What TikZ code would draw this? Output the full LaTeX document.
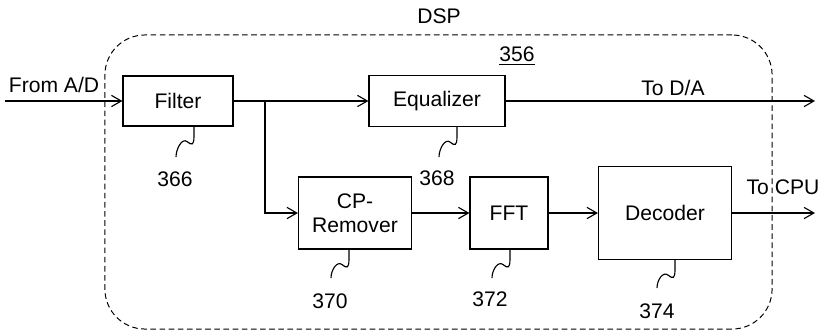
\documentclass[tikz,border=0pt]{standalone}
\usepackage{fontspec}
\setmainfont{Liberation Sans}
\usepackage{tikz}
\usetikzlibrary{arrows.meta, positioning, calc}

\begin{document}
\begin{tikzpicture}[
    x=0.025cm, y=-0.025cm,
    font=\fontsize{15}{17}\selectfont,
    box/.style={rectangle, draw, line width=0.8pt, align=center, inner sep=0pt},
    arrow/.style={-{Straight Barb[length=7pt, width=8pt]}, line width=0.8pt},
    line/.style={line width=0.8pt},
    refnum/.style={anchor=north, inner sep=0pt},
    squiggle/.style={line width=0.8pt, to path={-- ++(0,9) .. controls +(0,10) and +(5,4) .. ++(-7,6) .. controls +(-5,-4) and +(0,-8) .. (\tikztotarget)}}
]
\useasboundingbox (0,0) rectangle (822,331);

% outer DSP block
\node[draw, dash pattern=on 4pt off 2.5pt, line width=0.7pt, rounded corners=1cm, minimum width=16.675cm, minimum height=7.35cm] (dsp) at (438.5,182) {};
\node (dsplabel) at (439,16) {DSP};
\node (num356) at (517,56) {\underline{356}};

% blocks
\node[box, minimum width=2.75cm, minimum height=1.25cm] (filter) at (178,101) {Filter};
\node[box, minimum width=3.4cm, minimum height=1.275cm] (equalizer) at (437,101) {Equalizer};
\node[box, minimum width=2.825cm, minimum height=1.8cm] (cpremover) at (355,213) {CP-\\Remover};
\node[box, minimum width=1.95cm, minimum height=1.8cm] (fft) at (509,213) {FFT};
\node[box, minimum width=3.325cm, minimum height=2.325cm] (decoder) at (665,213) {Decoder};

% inputs and outputs
\coordinate (fromAD) at (5,101);
\coordinate (split) at (265,101);
\coordinate (toDA) at (815,101);
\coordinate (toCPU) at (815,213);
\node (fromADlabel) at (54,85) {From A/D};
\node (toDAlabel) at (673,88) {To D/A};
\node (toCPUlabel) at (783,187) {To CPU};

\draw[arrow] (fromAD) -- (filter);
\draw[line] (filter) -- (split);
\draw[arrow] (split) -- (equalizer);
\draw[arrow] (split) |- (cpremover);
\draw[arrow] (cpremover) -- (fft);
\draw[arrow] (fft) -- (decoder);
\draw[arrow] (equalizer) -- (toDA);
\draw[arrow] (decoder) -- (toCPU);

% reference numbers
\node[refnum] (num366) at (175,171) {366};
\node[refnum] (num368) at (437,170) {368};
\node[refnum] (num370) at (330,293) {370};
\node[refnum] (num372) at (490,291) {372};
\node[refnum] (num374) at (657,303) {374};

\draw[squiggle] (filter.south -| num366.north) ++(19,0) to ($(num366.north)+(1,-14)$);
\draw[squiggle] (equalizer.south -| num368.north) ++(20,0) to ($(num368.north)+(2,-13)$);
\draw[squiggle] (cpremover.south -| num370.north) ++(19,0) to ($(num370.north)+(1,-15)$);
\draw[squiggle] (fft.south -| num372.north) ++(20,0) to ($(num372.north)+(2,-13)$);
\draw[squiggle] (decoder.south -| num374.north) ++(18,0) to ($(num374.north)+(0,-15)$);
\end{tikzpicture}
\end{document}
